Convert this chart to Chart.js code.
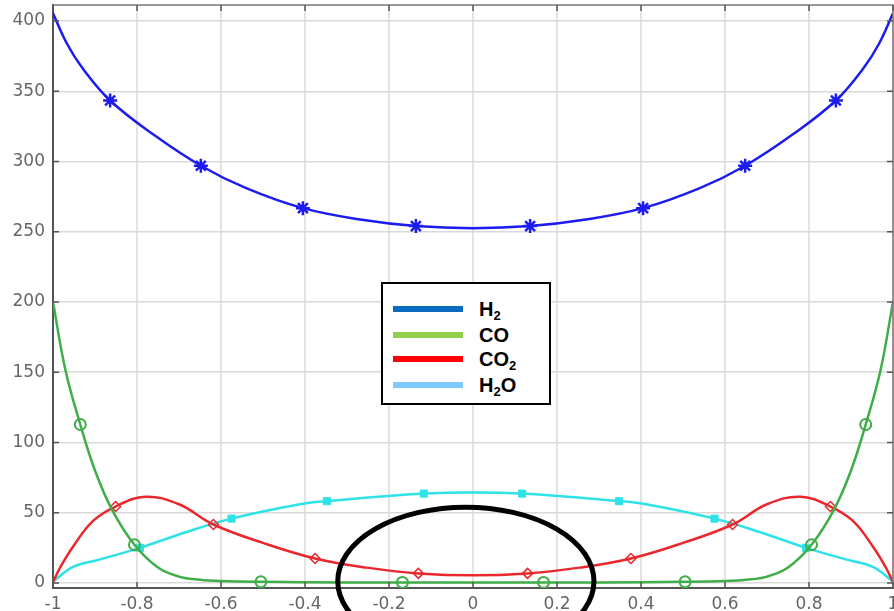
<!DOCTYPE html>
<html>
<head>
<meta charset="utf-8">
<script src="https://cdn.jsdelivr.net/npm/chart.js@4/dist/chart.umd.min.js"></script>
<style>
  html, body { margin: 0; padding: 0; background: #fff; }
  #wrap { position: relative; width: 894px; height: 611px; }
  #legend {
    position: absolute; left: 381px; top: 282px; width: 166px; height: 119px;
    border: 2px solid #000; background: #fff;
    font-family: "Liberation Sans", Arial, sans-serif; font-weight: bold; font-size: 20px; color: #000;
  }
  #legend .row { position: absolute; left: 0; height: 24px; line-height: 24px; width: 100%; }
  #legend .sw { position: absolute; left: 10px; top: 9px; width: 70px; height: 6px; }
  #legend .lb { position: absolute; left: 96px; top: 0; }
  #legend sub { font-size: 13px; vertical-align: -4px; line-height: 0; }
</style>
</head>
<body>
<div id="wrap">
  <canvas id="chart"></canvas>
  <div id="legend"></div>
</div>
<script>
// axis ticks
const xTicks = [-1, -0.8, -0.6, -0.4, -0.2, 0, 0.2, 0.4, 0.6, 0.8, 1];
const xTickLabels = ['-1', '-0.8', '-0.6', '-0.4', '-0.2', '0', '0.2', '0.4', '0.6', '0.8', '1'];
const yTicks = [0, 50, 100, 150, 200, 250, 300, 350, 400];
const yTickLabels = ['0', '50', '100', '150', '200', '250', '300', '350', '400'];

// H2 curve and markers
const h2X = [-1, -0.967, -0.93, -0.864, -0.76, -0.648, -0.54, -0.405, -0.26, -0.136, 0, 0.136, 0.26, 0.405, 0.54, 0.648, 0.76, 0.864, 0.93, 0.967, 1];
const h2Y = [405.5, 384, 366.5, 343.4, 319, 297, 281, 266.8, 258.3, 254, 252.5, 254, 258.3, 266.8, 281, 297, 319, 343.4, 366.5, 384, 405.5];
const h2MarkX = [-0.864, -0.648, -0.405, -0.136, 0.136, 0.405, 0.648, 0.864];
const h2MarkY = [343.4, 297, 266.8, 254, 254, 266.8, 297, 343.4];

// CO curve and markers
const coX = [-1, -0.97, -0.935, -0.9, -0.86, -0.806, -0.75, -0.7, -0.65, -0.6, -0.5, -0.3, 0, 0.3, 0.5, 0.6, 0.65, 0.7, 0.75, 0.806, 0.86, 0.9, 0.935, 0.97, 1];
const coY = [200, 151, 112.8, 80, 52.4, 27.2, 11, 4.5, 2.2, 1.3, 0.8, 0.4, 0.3, 0.4, 0.8, 1.3, 2.2, 4.5, 11, 27.2, 52.4, 80, 112.8, 151, 200];
const coMarkX = [-0.935, -0.806, -0.505, -0.168, 0.168, 0.505, 0.806, 0.935];
const coMarkY = [112.8, 27.2, 0.8, 0.4, 0.4, 0.8, 27.2, 112.8];

// CO2 curve and markers
const co2X = [-1, -0.983, -0.952, -0.904, -0.851, -0.78, -0.7, -0.618, -0.5, -0.376, -0.254, -0.13, 0, 0.13, 0.254, 0.376, 0.5, 0.618, 0.7, 0.78, 0.851, 0.904, 0.952, 0.983, 1];
const co2Y = [0.5, 11, 26, 44.3, 54.4, 61.4, 56, 41.6, 28.5, 17.4, 10.9, 6.8, 5.4, 6.8, 10.9, 17.4, 28.5, 41.6, 56, 61.4, 54.4, 44.3, 26, 11, 0.5];
const co2MarkX = [-0.851, -0.618, -0.376, -0.13, 0.13, 0.376, 0.618, 0.851];
const co2MarkY = [54.4, 41.6, 17.4, 6.8, 6.8, 17.4, 41.6, 54.4];

// H2O curve and markers
const h2oX = [-1, -0.952, -0.89, -0.793, -0.682, -0.575, -0.412, -0.348, -0.117, 0, 0.117, 0.348, 0.412, 0.575, 0.682, 0.793, 0.89, 0.952, 1];
const h2oY = [1, 11.4, 16.6, 25, 36.3, 45.8, 56, 58.2, 63.6, 64.4, 63.6, 58.2, 56, 45.8, 36.3, 25, 16.6, 11.4, 1];
const h2oMarkX = [-0.793, -0.575, -0.348, -0.117, 0.117, 0.348, 0.575, 0.793];
const h2oMarkY = [25, 45.8, 58.2, 63.6, 63.6, 58.2, 45.8, 25];

// legend
const legendLabels = ['H<sub>2</sub>', 'CO', 'CO<sub>2</sub>', 'H<sub>2</sub>O'];
const legendColors = ['#0a6cc0', '#92d050', '#ff0000', '#7ccaff'];

const pts = (xs, ys) => xs.map((x, i) => ({ x: x, y: ys[i] }));

const species = [
  { line: [h2X, h2Y], mark: [h2MarkX, h2MarkY], color: '#1c1cf0', style: 'star', r: 7, fill: '#1c1cf0', bw: 2.5 },
  { line: [coX, coY], mark: [coMarkX, coMarkY], color: '#3fae49', style: 'circle', r: 5.5, fill: 'rgba(0,0,0,0)', bw: 2 },
  { line: [co2X, co2Y], mark: [co2MarkX, co2MarkY], color: '#e8282c', style: 'rectRot', r: 5, fill: 'rgba(0,0,0,0)', bw: 1.5 },
  { line: [h2oX, h2oY], mark: [h2oMarkX, h2oMarkY], color: '#2ee2e8', style: 'rect', r: 5, fill: '#2ee2e8', bw: 1 }
];

const datasets = [];
species.forEach(s => {
  datasets.push({
    data: pts(s.line[0], s.line[1]),
    showLine: true,
    borderColor: s.color,
    borderWidth: 2.5,
    pointRadius: 0,
    tension: 0.4,
    fill: false
  });
  datasets.push({
    data: pts(s.mark[0], s.mark[1]),
    showLine: false,
    pointStyle: s.style,
    pointRadius: s.r,
    pointBorderColor: s.color,
    pointBackgroundColor: s.fill,
    pointBorderWidth: s.bw
  });
});

// frame, inward ticks and the hand-drawn ellipse
const ellipse = { cx: -0.017, cy: 1.2, rx: 0.305, ry: 52.7 };
const framePlugin = {
  id: 'frame',
  afterDraw(chart) {
    const ctx = chart.ctx;
    const a = chart.chartArea;
    const xs = chart.scales.x, ys = chart.scales.y;
    ctx.save();
    ctx.strokeStyle = '#777';
    ctx.lineWidth = 1.5;
    ctx.beginPath();
    ctx.moveTo(a.left, a.top); ctx.lineTo(a.right, a.top); ctx.lineTo(a.right, a.bottom);
    ctx.stroke();
    ctx.strokeStyle = '#555';
    ctx.beginPath();
    xTicks.forEach(v => {
      const p = xs.getPixelForValue(v);
      ctx.moveTo(p, a.bottom); ctx.lineTo(p, a.bottom - 6);
      ctx.moveTo(p, a.top); ctx.lineTo(p, a.top + 6);
    });
    yTicks.forEach(v => {
      const p = ys.getPixelForValue(v);
      ctx.moveTo(a.left, p); ctx.lineTo(a.left + 6, p);
      ctx.moveTo(a.right, p); ctx.lineTo(a.right - 6, p);
    });
    ctx.stroke();
    const cx = xs.getPixelForValue(ellipse.cx);
    const cy = ys.getPixelForValue(ellipse.cy);
    const rx = xs.getPixelForValue(ellipse.cx + ellipse.rx) - cx;
    const ry = cy - ys.getPixelForValue(ellipse.cy + ellipse.ry);
    ctx.strokeStyle = '#000';
    ctx.lineWidth = 5;
    ctx.beginPath();
    ctx.ellipse(cx, cy, rx, ry, 0, 0, Math.PI * 2);
    ctx.stroke();
    ctx.restore();
  }
};

const tickFont = { family: 'DejaVu Sans', size: 17 };

new Chart(document.getElementById('chart').getContext('2d'), {
  type: 'scatter',
  data: { datasets: datasets },
  options: {
    responsive: true,
    maintainAspectRatio: false,
    animation: false,
    layout: { autoPadding: false, padding: { top: 5, right: 1, left: 0, bottom: 0 } },
    plugins: { legend: { display: false }, tooltip: { enabled: false } },
    scales: {
      x: {
        type: 'linear',
        min: -1,
        max: 1,
        afterBuildTicks: s => { s.ticks = xTicks.map(v => ({ value: v })); },
        afterFit: s => { s.height = 23; s.paddingLeft = 0; s.paddingRight = 0; },
        ticks: {
          callback: (v, i) => xTickLabels[i],
          color: '#666',
          font: tickFont,
          padding: 6,
          maxRotation: 0,
          autoSkip: false
        },
        grid: { color: '#e3e3e3', lineWidth: 2, drawTicks: false },
        border: { display: true, color: '#555', width: 2 }
      },
      y: {
        type: 'linear',
        min: -3.6,
        max: 411.4,
        afterBuildTicks: s => { s.ticks = yTicks.map(v => ({ value: v })); },
        afterFit: s => { s.width = 53; s.paddingTop = 0; s.paddingBottom = 0; },
        ticks: {
          callback: (v, i) => yTickLabels[i],
          color: '#666',
          font: tickFont,
          padding: 8,
          autoSkip: false
        },
        grid: { color: '#d9d9d9', lineWidth: 1.5, drawTicks: false },
        border: { display: true, color: '#555', width: 2 }
      }
    }
  },
  plugins: [framePlugin]
});

// legend box
const legend = document.getElementById('legend');
const rowCenters = [25, 51, 75, 101];
legendLabels.forEach((lab, i) => {
  const row = document.createElement('div');
  row.className = 'row';
  row.style.top = (rowCenters[i] - 12) + 'px';
  row.innerHTML = '<div class="sw" style="background:' + legendColors[i] + '"></div><div class="lb">' + lab + '</div>';
  legend.appendChild(row);
});
</script>
</body>
</html>
